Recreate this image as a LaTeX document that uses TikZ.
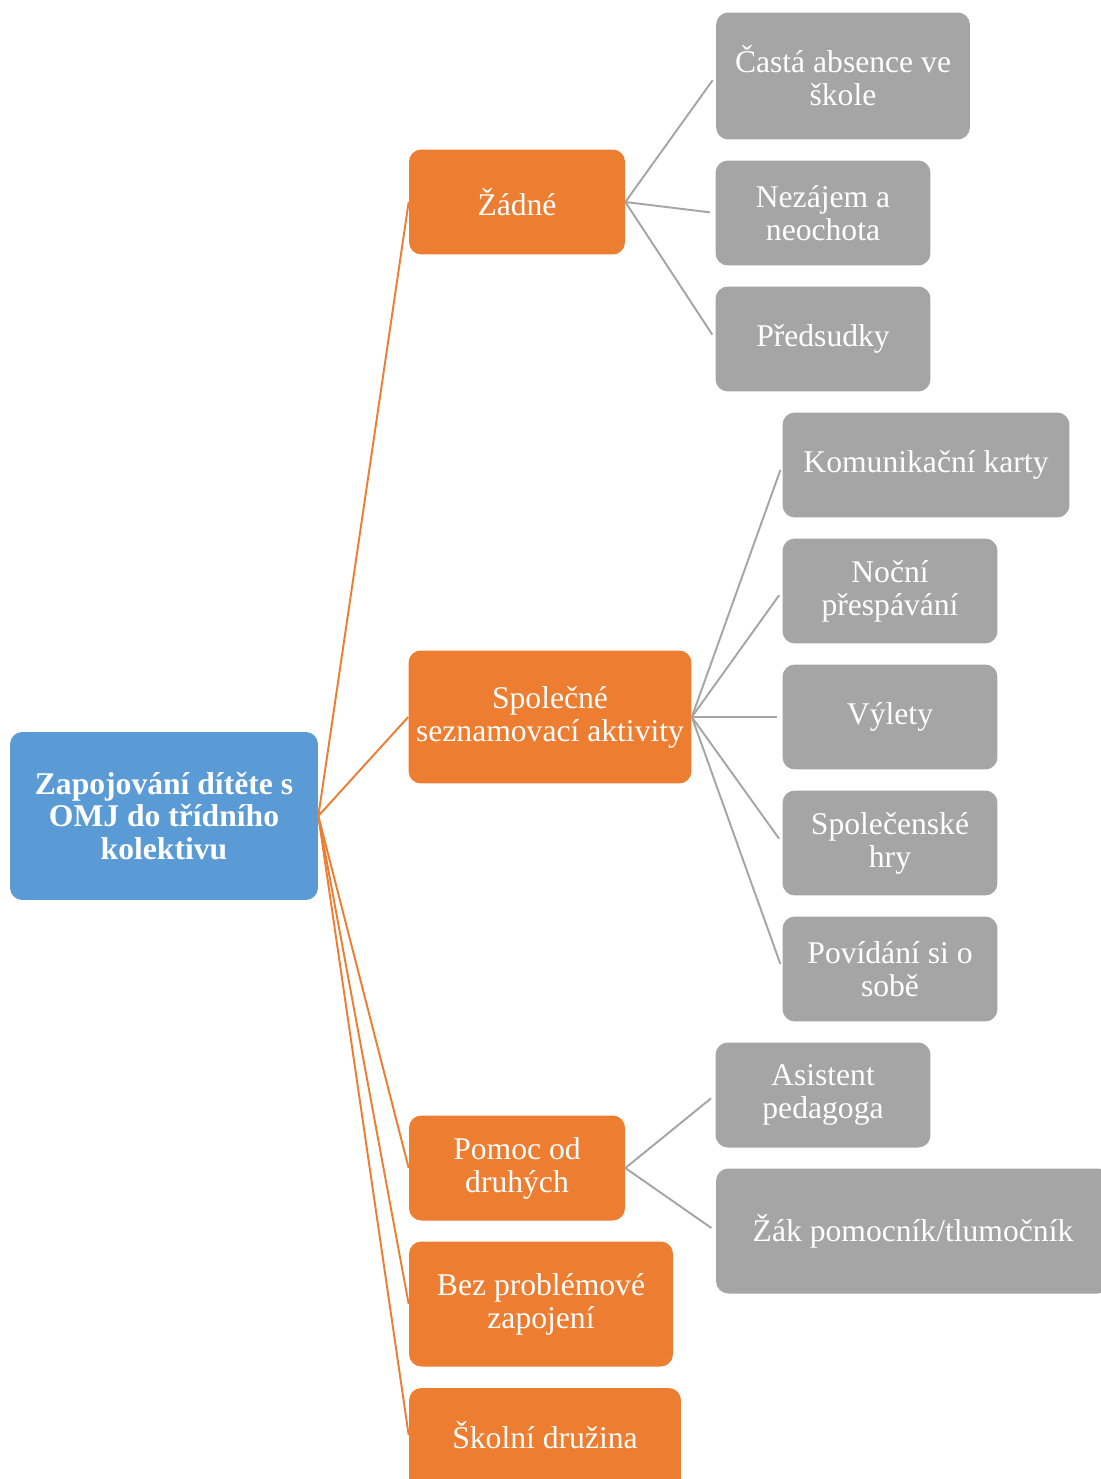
\documentclass[tikz,border=0pt]{standalone}
\usepackage{fontspec}
\setmainfont{Liberation Serif}
\usepackage{tikz}
\usetikzlibrary{positioning}
\definecolor{omjblue}{HTML}{5B9BD5}
\definecolor{omjorange}{HTML}{ED7D31}
\definecolor{omjgrey}{HTML}{A5A5A5}
\tikzset{
  box/.style={rounded corners=7pt, text=white, align=center, inner sep=2pt,
    font=\fontsize{18}{18.7}\selectfont},
  rootbox/.style={box, fill=omjblue, font=\fontsize{18}{18.7}\selectfont\bfseries},
  catbox/.style={box, fill=omjorange, minimum width=4.32cm, minimum height=2.1cm},
  itembox/.style={box, fill=omjgrey, minimum width=4.3cm, minimum height=2.1cm},
  catline/.style={draw=omjorange, line width=1.1pt},
  itemline/.style={draw=omjgrey, line width=1.1pt, shorten >=3pt},
}

\begin{document}
\begin{tikzpicture}[x=0.02cm, y=-0.02cm]
    \useasboundingbox (0,0) rectangle (1100,1479);

    % root
    \node[rootbox, minimum width=6.16cm, minimum height=3.36cm] (root) at (164,816)
        {Zapojování dítěte s\\OMJ do třídního\\kolektivu};

    % categories
    \node[catbox] (zadne) at (517,202) {Žádné};
    \node[catbox, minimum width=5.66cm, minimum height=2.66cm] (spol) at (550,717)
        {Společné\\seznamovací aktivity};
    \node[catbox] (pomoc) at (517,1168) {Pomoc od\\druhých};
    \node[catbox, minimum width=5.28cm, minimum height=2.5cm] (bez) at (541,1304)
        {Bez problémové\\zapojení};
    % runs off the page at the bottom
    \node[catbox, minimum width=5.44cm, minimum height=2.28cm, text depth=0.4cm]
        (druzina) at (545,1445) {Školní družina};

    % Zadne
    \node[itembox, minimum width=5.08cm, minimum height=2.54cm] (absence) at (843,76)
        {Častá absence ve\\škole};
    \node[itembox] (nezajem) at (823,213) {Nezájem a\\neochota};
    \node[itembox] (predsudky) at (823,339) {Předsudky};

    % Spolecne aktivity
    \node[itembox, minimum width=5.74cm] (karty) at (926,465) {Komunikační karty};
    \node[itembox] (nocni) at (890,591) {Noční\\přespávání};
    \node[itembox] (vylety) at (890,717) {Výlety};
    \node[itembox] (hry) at (890,843) {Společenské\\hry};
    \node[itembox] (sobe) at (890,969) {Povídání si o\\sobě};

    % Pomoc
    \node[itembox] (asistent) at (823,1095) {Asistent\\pedagoga};
    \node[itembox, minimum width=7.88cm, minimum height=2.5cm] (zak) at (913,1231)
        {Žák pomocník/tlumočník};

    % connectors
    \foreach \c in {zadne,spol,pomoc,bez}
        \draw[catline] (root.east) -- (\c.west);
    \draw[catline] (root.east) -- (druzina.west |- 0,1435);
    \foreach \i in {absence,nezajem,predsudky}
        \draw[itemline] (zadne.east) -- (\i.west);
    \foreach \i in {karty,nocni,vylety,hry,sobe}
        \draw[itemline] (spol.east) -- (\i.west);
    \foreach \i in {asistent,zak}
        \draw[itemline] (pomoc.east) -- (\i.west);
\end{tikzpicture}
\end{document}
